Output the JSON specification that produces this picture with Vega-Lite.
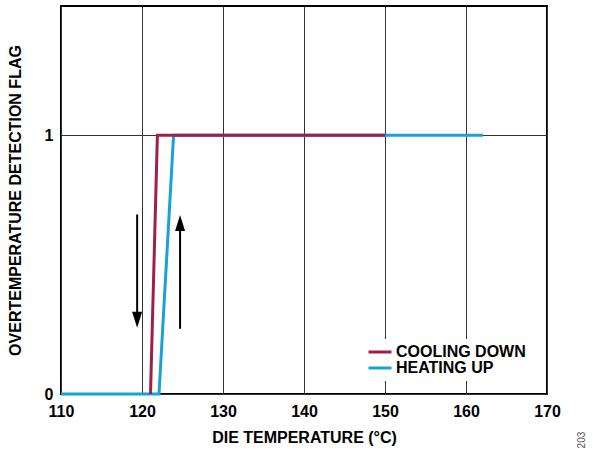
{
  "$schema": "https://vega.github.io/schema/vega-lite/v6.json",
  "width": 486,
  "height": 388,
  "autosize": {"type": "none"},
  "padding": {"left": 61, "top": 6, "right": 46, "bottom": 55},
  "background": "white",
  "config": {
    "font": "Liberation Sans",
    "view": {"stroke": "black", "strokeWidth": 2},
    "axis": {
      "domain": false,
      "ticks": false,
      "grid": true,
      "gridColor": "#333333",
      "gridWidth": 1,
      "gridOpacity": 1,
      "labelFont": "Liberation Sans",
      "labelFontSize": 16,
      "labelFontWeight": "bold",
      "labelColor": "black",
      "labelFlush": false,
      "labelOverlap": false,
      "titleFont": "Liberation Sans",
      "titleFontSize": 16,
      "titleFontWeight": "bold",
      "titleColor": "black"
    }
  },
  "datasets": {
    "lines": [
      {"series": "HEATING UP", "t": 110, "f": 0, "o": 1},
      {"series": "HEATING UP", "t": 122.1, "f": 0, "o": 2},
      {"series": "HEATING UP", "t": 123.9, "f": 1, "o": 3},
      {"series": "HEATING UP", "t": 162.1, "f": 1, "o": 4},
      {"series": "COOLING DOWN", "t": 150, "f": 1, "o": 1},
      {"series": "COOLING DOWN", "t": 121.9, "f": 1, "o": 2},
      {"series": "COOLING DOWN", "t": 121.05, "f": 0, "o": 3}
    ],
    "arrows": [
      {"dir": "down", "t": 119.4, "f": 0.694, "f2": 0.29, "fh": 0.287},
      {"dir": "up", "t": 124.7, "f": 0.252, "f2": 0.66, "fh": 0.661}
    ],
    "note": [{"label": "203", "t": 174.3, "f": -0.178}]
  },
  "encoding": {
    "x": {
      "field": "t", "type": "quantitative",
      "scale": {"domain": [110, 170], "nice": false, "zero": false},
      "axis": {"values": [110, 120, 130, 140, 150, 160, 170], "title": "DIE TEMPERATURE (°C)", "labelPadding": 9, "titlePadding": 10}
    },
    "y": {
      "field": "f", "type": "quantitative",
      "scale": {"domain": [0, 1.5], "nice": false, "zero": false},
      "axis": {"values": [0, 1], "title": "OVERTEMPERATURE DETECTION FLAG", "labelPadding": 8, "titlePadding": 21}
    }
  },
  "layer": [
    {
      "data": {"name": "lines"},
      "transform": [{"filter": "datum.series === 'HEATING UP'"}],
      "mark": {"type": "line", "strokeWidth": 3, "strokeCap": "butt"},
      "encoding": {
        "order": {"field": "o", "type": "quantitative"},
        "color": {
          "field": "series", "type": "nominal",
          "scale": {"domain": ["COOLING DOWN", "HEATING UP"], "range": ["#9E1F4A", "#17A2D8"]},
          "legend": {
            "title": null,
            "orient": "none",
            "legendX": 306,
            "legendY": 333,
            "fillColor": "white",
            "padding": 5,
            "symbolType": "M-2,0L2,0",
            "symbolStrokeWidth": 3,
            "symbolSize": 132,
            "labelFont": "Liberation Sans",
            "labelFontSize": 16,
            "labelFontWeight": "bold",
            "labelColor": "black",
            "rowPadding": -2,
            "labelOffset": 8
          }
        }
      }
    },
    {
      "data": {"name": "lines"},
      "transform": [{"filter": "datum.series === 'COOLING DOWN'"}],
      "mark": {"type": "line", "strokeWidth": 3, "strokeCap": "butt"},
      "encoding": {
        "order": {"field": "o", "type": "quantitative"},
        "color": {"field": "series", "type": "nominal"}
      }
    },
    {
      "data": {"name": "arrows"},
      "mark": {"type": "rule", "color": "black", "strokeWidth": 2},
      "encoding": {"y2": {"field": "f2"}}
    },
    {
      "data": {"name": "arrows"},
      "mark": {"type": "point", "filled": true, "color": "black", "opacity": 1, "size": 256},
      "encoding": {
        "y": {"field": "fh", "type": "quantitative"},
        "shape": {
          "field": "dir", "type": "nominal",
          "scale": {"domain": ["down", "up"], "range": ["M0,1L0.625,-1L-0.625,-1Z", "M0,-1L0.625,1L-0.625,1Z"]},
          "legend": null
        }
      }
    },
    {
      "data": {"name": "note"},
      "mark": {"type": "text", "angle": 270, "fontSize": 10, "color": "#555555", "align": "center", "baseline": "middle"},
      "encoding": {"text": {"field": "label"}}
    }
  ]
}
